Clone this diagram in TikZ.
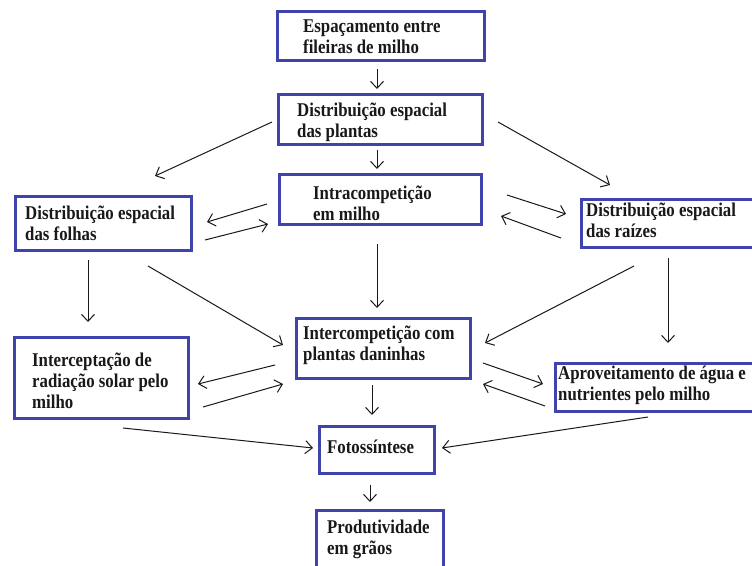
\documentclass[tikz,border=0pt]{standalone}
\usepackage{fontspec}
\usepackage{graphicx}
\setmainfont{Liberation Serif}
\usetikzlibrary{arrows.meta,calc}
\definecolor{boxblue}{RGB}{62,68,172}
\definecolor{ink}{RGB}{25,25,25}
\newcommand{\sx}[1]{\scalebox{1}[1.16]{#1}}
\tikzset{
  box/.style={draw=boxblue, line width=3pt, fill=white, inner sep=0pt, outer sep=0pt, rectangle},
  txt/.style={anchor=base west, align=left, inner sep=0pt, text=ink,
    font=\fontsize{16.8}{21}\selectfont\bfseries},
  arr/.style={draw=ink, line width=1pt, -{Straight Barb[length=7pt,width=13pt,line width=1pt]}}
}
\begin{document}
\begin{tikzpicture}[x=1pt,y=-1pt]
\useasboundingbox (0,0) rectangle (752,565);
\fill[white] (0,0) rectangle (752,565);
\clip (0,0) rectangle (752,565);
% boxes
\node[box, minimum width=207pt, minimum height=49pt] (b1) at (381,36) {};
\node[box, minimum width=204pt, minimum height=50pt] (b2) at (380.5,119.5) {};
\node[box, minimum width=202pt, minimum height=50pt] (b3) at (380.5,199.5) {};
\node[box, minimum width=176pt, minimum height=54pt] (b4) at (103.5,223.5) {};
\node[box, minimum width=188.5pt, minimum height=48pt] (b5) at (675.75,223.5) {};
\node[box, minimum width=174pt, minimum height=60pt] (b6) at (383.5,348.5) {};
\node[box, minimum width=174pt, minimum height=81pt] (b7) at (101.5,378) {};
\node[box, minimum width=214.5pt, minimum height=48pt] (b8) at (662.75,387.5) {};
\node[box, minimum width=115pt, minimum height=47pt] (b9) at (377,450) {};
\node[box, minimum width=127pt, minimum height=79.5pt] (b10) at (380,550.25) {};
% texts (anchor = baseline of the last line)
\node[txt] (t1) at (303,53) {\sx{Espaçamento entre}\\\sx{fileiras de milho}};
\node[txt] (t2) at (297,137) {\sx{Distribuição espacial}\\\sx{das plantas}};
\node[txt] (t3) at (313,220) {\sx{Intracompetição}\\\sx{em milho}};
\node[txt] (t4) at (25,240) {\sx{Distribuição espacial}\\\sx{das folhas}};
\node[txt] (t5) at (586,237) {\sx{Distribuição espacial}\\\sx{das raízes}};
\node[txt] (t6) at (303,360) {\sx{Intercompetição com}\\\sx{plantas daninhas}};
\node[txt] (t7) at (32,408) {\sx{Interceptação de}\\\sx{radiação solar pelo}\\\sx{milho}};
\node[txt] (t8) at (558,400) {\sx{Aproveitamento de água e}\\\sx{nutrientes pelo milho}};
\node[txt] (t9) at (327,453) {\sx{Fotossíntese}};
\node[txt] (t10) at (327,554) {\sx{Produtividade}\\\sx{em grãos}};
% arrows
\draw[arr] ($(b1)+(-4,33)$) -- ($(b2)+(-3.5,-30.5)$);
\draw[arr] ($(b2)+(-3.5,30.5)$) -- ($(b3)+(-3.5,-30.5)$);
\draw[arr] ($(b2)+(-108.5,2.5)$) -- ($(b4)+(51.5,-47.5)$);
\draw[arr] ($(b2)+(117.5,2.5)$) -- ($(b5)+(-65.75,-38.5)$);
\draw[arr] ($(b3)+(-113.5,4.5)$) -- ($(b4)+(103.5,-1.5)$);
\draw[arr] ($(b4)+(101.5,16.5)$) -- ($(b3)+(-112.5,24.5)$);
\draw[arr] ($(b3)+(126.5,-4.5)$) -- ($(b5)+(-109.75,-9.5)$);
\draw[arr] ($(b5)+(-114.75,14.5)$) -- ($(b3)+(120.5,16.5)$);
\draw[arr] ($(b3)+(-3.5,44.5)$) -- ($(b6)+(-6.5,-40.5)$);
\draw[arr] ($(b4)+(-15.5,36.5)$) -- ($(b7)+(-13.5,-56)$);
\draw[arr] ($(b4)+(44.5,42.5)$) -- ($(b6)+(-100.5,-3.5)$);
\draw[arr] ($(b5)+(-41.75,42.5)$) -- ($(b6)+(101.5,-5.5)$);
\draw[arr] ($(b5)+(-7.75,34.5)$) -- ($(b8)+(5.25,-44.5)$);
\draw[arr] ($(b6)+(-108.5,16.5)$) -- ($(b7)+(96.5,6)$);
\draw[arr] ($(b7)+(101.5,29)$) -- ($(b6)+(-100.5,35.5)$);
\draw[arr] ($(b6)+(99.5,14.5)$) -- ($(b8)+(-119.75,-3.5)$);
\draw[arr] ($(b8)+(-117.75,18.5)$) -- ($(b6)+(99.5,35.5)$);
\draw[arr] ($(b6)+(-11.5,36.5)$) -- ($(b9)+(-5,-35)$);
\draw[arr] ($(b7)+(21.5,50)$) -- ($(b9)+(-64,-2)$);
\draw[arr] ($(b8)+(-14.75,29.5)$) -- ($(b9)+(65,-2)$);
\draw[arr] ($(b9)+(-7,35)$) -- ($(b10)+(-10,-48.25)$);
\end{tikzpicture}
\end{document}
